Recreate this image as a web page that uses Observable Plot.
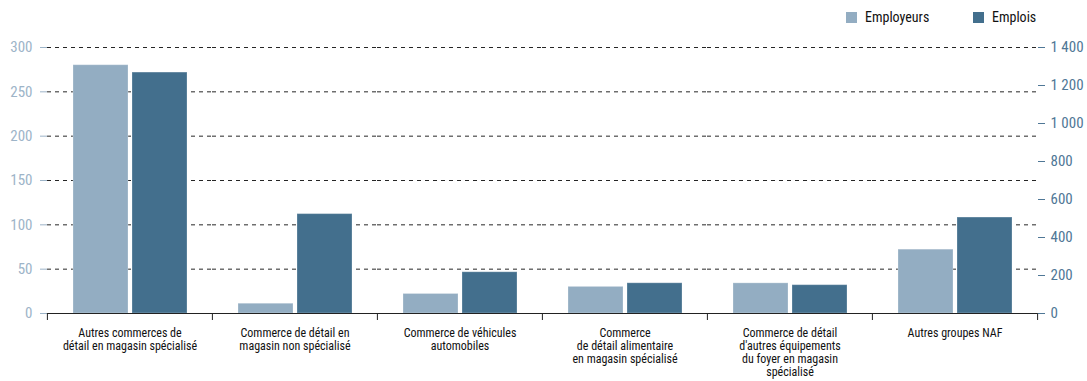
<!DOCTYPE html>
<html>
<head>
<meta charset="utf-8">
<script src="https://cdn.jsdelivr.net/npm/d3@7"></script>
<script src="https://cdn.jsdelivr.net/npm/@observablehq/plot@0.6"></script>
<style>
  html, body { margin: 0; padding: 0; background: #fff; }
  body { width: 1087px; height: 381px; overflow: hidden; font-family: "Liberation Sans Narrow", "Roboto Condensed", "DejaVu Sans Condensed", sans-serif; }
  #legend { height: 33px; position: relative; font-size: 14px; color: #111; }
  .item { position: absolute; top: 9px; display: flex; align-items: center; }
  .sw { width: 11px; height: 11px; margin-right: 8px; }
</style>
</head>
<body>
<div id="legend"></div>
<div id="chart"></div>
<script>
// ---- data ----
const categories = [
  "Autres commerces de\ndétail en magasin spécialisé",
  "Commerce de détail en\nmagasin non spécialisé",
  "Commerce de véhicules\nautomobiles",
  "Commerce\nde détail alimentaire\nen magasin spécialisé",
  "Commerce de détail\nd'autres équipements\ndu foyer en magasin\nspécialisé",
  "Autres groupes NAF"
];
const seriesNames = ["Employeurs", "Emplois"];
const employeurs = [280, 11, 22, 30, 34, 72];       // left axis
const emplois = [1268, 523, 217, 159, 149, 505];    // right axis
const leftTicks = [0, 50, 100, 150, 200, 250, 300];
const rightTicks = [0, 200, 400, 600, 800, 1000, 1200, 1400];
const colors = ["#93adc2", "#436f8d"];

// ---- build ----
const leftMax = 300, rightMax = 1400;
const toLeft = v => v * leftMax / rightMax;
const rows = [];
categories.forEach((c, i) => {
  rows.push({cat: c, series: seriesNames[0], value: employeurs[i], y: employeurs[i]});
  rows.push({cat: c, series: seriesNames[1], value: emplois[i], y: toLeft(emplois[i])});
});
const fmt = d3.formatLocale({decimal: ",", thousands: " ", grouping: [3]}).format(",");

// legend
const legend = document.getElementById("legend");
[[seriesNames[0], colors[0], 846], [seriesNames[1], colors[1], 973]].forEach(([n, c, x]) => {
  const it = document.createElement("div");
  it.className = "item";
  it.style.left = x + "px";
  it.innerHTML = `<span class="sw" style="background:${c}"></span><span>${n}</span>`;
  legend.appendChild(it);
});

const font = `"Liberation Sans Narrow", "Roboto Condensed", "DejaVu Sans Condensed", sans-serif`;
const leftColor = "#9db4c8";
const rightColor = "#4f7796";

const chart = Plot.plot({
  width: 1087,
  height: 348,
  marginTop: 14,
  marginBottom: 68,
  marginLeft: 46,
  marginRight: 50,
  style: {fontFamily: font, background: "transparent"},
  fx: {domain: categories, padding: 0},
  x: {domain: seriesNames, paddingInner: 0.068, paddingOuter: 0.432, axis: null},
  y: {domain: [0, leftMax]},
  color: {domain: seriesNames, range: colors},
  marks: [
    Plot.gridY({ticks: leftTicks.filter(t => t > 0), stroke: "#000", strokeOpacity: 0.85, strokeDasharray: "4,4"}),
    Plot.barY(rows, {fx: "cat", x: "series", y: "y", fill: "series", stroke: "#ffffff", strokeOpacity: 0.25}),
    Plot.ruleY([0], {stroke: "#222", strokeWidth: 1.2}),
    Plot.axisY({anchor: "left", ticks: leftTicks, tickSize: 7, tickPadding: 8, fontSize: 15, color: leftColor, label: null, line: true}),
    Plot.axisY({anchor: "right", ticks: rightTicks.map(toLeft), tickFormat: d => fmt(Math.round(d * rightMax / leftMax)), tickSize: 7, tickPadding: 6, fontSize: 15, color: rightColor, label: null, line: true}),
    Plot.axisFx({anchor: "bottom", tickSize: 0, tickPadding: 14, fontSize: 12, lineHeight: 1.1, fill: "#111", label: null}),
    Plot.axisFx({anchor: "bottom", text: null, tickSize: 7, dx: -82.6, stroke: "#222", label: null}),
    Plot.axisFx({anchor: "bottom", ticks: [categories[categories.length - 1]], text: null, tickSize: 7, dx: 82.6, stroke: "#222", label: null})
  ]
});
document.getElementById("chart").appendChild(chart);
</script>
</body>
</html>
